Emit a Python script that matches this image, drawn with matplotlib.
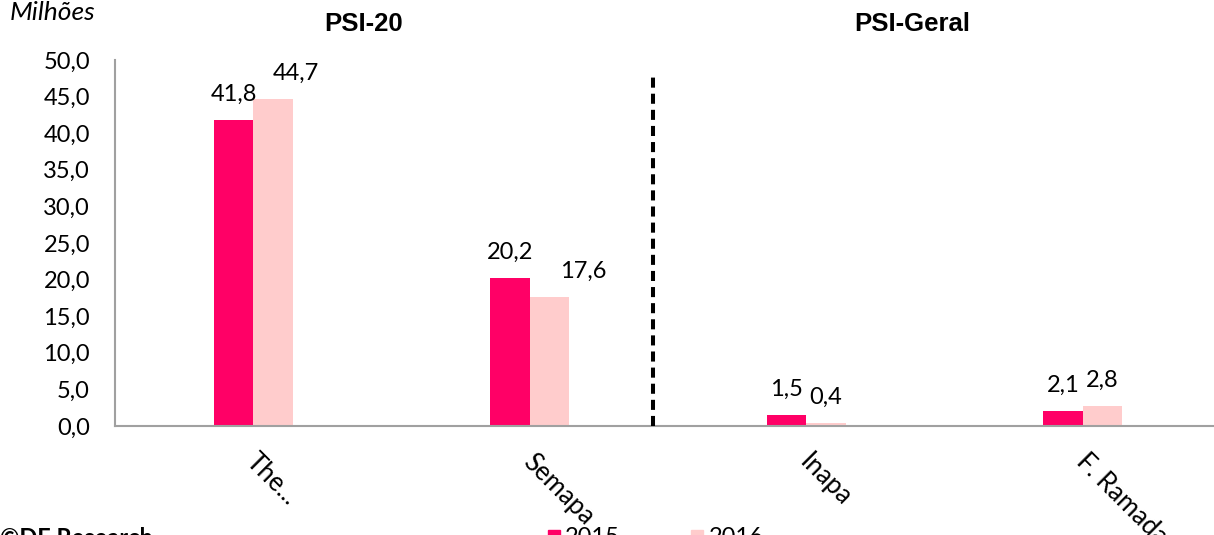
import matplotlib
matplotlib.use("Agg")
import matplotlib.pyplot as plt
from matplotlib.patches import Rectangle

categories = ["The...", "Semapa", "Inapa", "F. Ramada"]
series_names = ["2015", "2016"]
values_2015 = [41.8, 20.2, 1.5, 2.1]
values_2016 = [44.7, 17.6, 0.4, 2.8]
y_ticks = [0, 5, 10, 15, 20, 25, 30, 35, 40, 45, 50]
group_titles = ["PSI-20", "PSI-Geral"]

C15 = "#FF0066"
C16 = "#FFCCCC"
FONT = ["Lato", "DejaVu Sans"]
FS = 17

W, H = 1214, 535
fig = plt.figure(figsize=(W / 100, H / 100), dpi=100)
ax_left, ax_right, ax_top, ax_bot = 115, 1221, 60, 426
ax = fig.add_axes([ax_left / W, 1 - ax_bot / H, (ax_right - ax_left) / W, (ax_bot - ax_top) / H])

n = len(categories)
xs = list(range(n))
bw = 0.143
ax.bar([x - bw / 2 for x in xs], values_2015, width=bw, color=C15, zorder=2)
ax.bar([x + bw / 2 for x in xs], values_2016, width=bw, color=C16, zorder=2)

ax.set_xlim(-0.5, n - 0.5)
ax.set_ylim(0, 50)
ax.set_yticks(y_ticks)
ax.set_yticklabels([f"{v:.1f}".replace(".", ",") for v in y_ticks], fontsize=FS, family=FONT)
ax.tick_params(axis="y", length=0, pad=18)
ax.set_xticks(xs)
ax.set_xticklabels([])
ax.tick_params(axis="x", length=0)
for s in ["top", "right"]:
    ax.spines[s].set_visible(False)
for s in ["left", "bottom"]:
    ax.spines[s].set_color("#A0A0A0")
    ax.spines[s].set_linewidth(1.5)

# category labels rotated
for x, lab in zip(xs, categories):
    ax.annotate(lab, xy=(x, 0), xycoords="data", xytext=(6, -23), textcoords="offset pixels",
                rotation=-45, rotation_mode="anchor", ha="left", va="top",
                fontsize=18.5, family=FONT, annotation_clip=False)

# data labels
off16 = [23, 34, 0, 0]
for i, (v1, v2) in enumerate(zip(values_2015, values_2016)):
    ax.annotate(f"{v1:.1f}".replace(".", ","), xy=(xs[i] - bw / 2, v1), xytext=(0, 19),
                textcoords="offset pixels", ha="center", va="baseline", fontsize=FS, family=FONT)
    ax.annotate(f"{v2:.1f}".replace(".", ","), xy=(xs[i] + bw / 2, v2), xytext=(off16[i], 19),
                textcoords="offset pixels", ha="center", va="baseline", fontsize=FS, family=FONT)

# dashed separator
ax.plot([1.446, 1.446], [0, 47.7], color="black", linestyle=(0, (2.5, 1.5)), linewidth=2.9,
        zorder=3)

# group titles
fig.text(364 / W, 1 - 24 / H, group_titles[0], ha="center", va="center", fontsize=18.5,
         fontweight="bold", family="Liberation Sans")
fig.text(912 / W, 1 - 24 / H, group_titles[1], ha="center", va="center", fontsize=18.5,
         fontweight="bold", family="Liberation Sans")

fig.text(10 / W, 1 - 12 / H, "Milhões", ha="left", va="center", fontsize=19,
         style="italic", family=FONT)

# footer (clipped at bottom, as in the reference)
fig.text(0 / W, 1 - 527 / H, "©DE Research", ha="left", va="top", fontsize=FS,
         fontweight="bold", family=FONT)
fig.patches.append(Rectangle((548 / W, 1 - 542 / H), 12 / W, 12 / H, transform=fig.transFigure,
                             color=C15, figure=fig))
fig.text(565 / W, 1 - 527 / H, series_names[0], ha="left", va="top", fontsize=FS, family=FONT)
fig.patches.append(Rectangle((691 / W, 1 - 542 / H), 12 / W, 12 / H, transform=fig.transFigure,
                             color=C16, figure=fig))
fig.text(709 / W, 1 - 527 / H, series_names[1], ha="left", va="top", fontsize=FS, family=FONT)

fig.savefig("out.png", dpi=100)
